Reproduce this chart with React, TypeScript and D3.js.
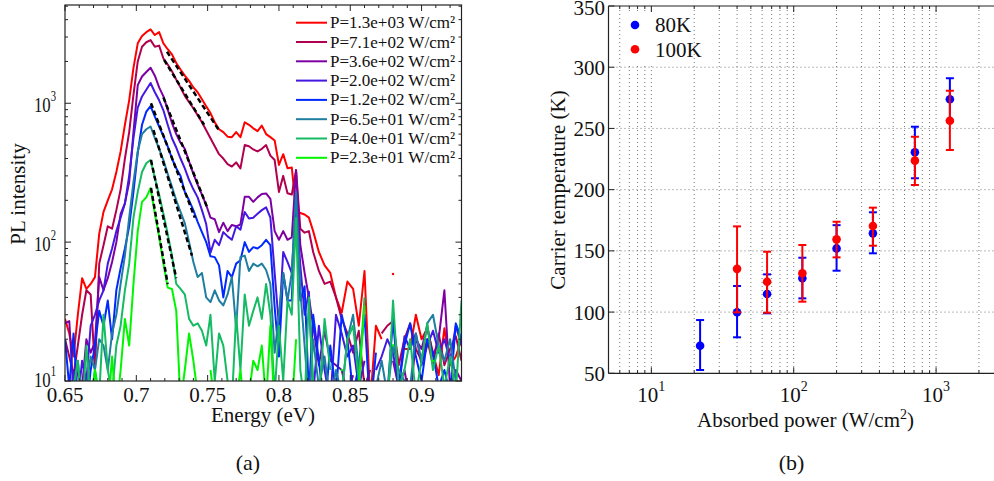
import React from "react";
import * as d3 from "d3";

// ---------- Panel (a): PL spectra ----------
const energy = [
  0.650, 0.653, 0.656, 0.659, 0.662, 0.665, 0.668, 0.671, 0.674, 0.677,
  0.680, 0.683, 0.686, 0.689, 0.692, 0.695, 0.698, 0.701, 0.704, 0.707,
  0.710, 0.713, 0.716, 0.719, 0.722, 0.725, 0.728, 0.731, 0.734, 0.737,
  0.740, 0.743, 0.746, 0.749, 0.752, 0.755, 0.758, 0.761, 0.764, 0.767,
  0.770, 0.773, 0.776, 0.779, 0.782, 0.785, 0.788, 0.791, 0.794, 0.797,
  0.800, 0.803, 0.806, 0.809, 0.812, 0.815, 0.818, 0.821, 0.824,
  0.828, 0.832, 0.836, 0.840, 0.844, 0.848, 0.852, 0.856, 0.860, 0.864,
  0.868, 0.872, 0.876, 0.880, 0.884, 0.888, 0.892, 0.896, 0.900, 0.904,
  0.908, 0.912, 0.916, 0.920, 0.924, 0.928,
];

const pl1300 = [
  28, 22, 15, 30, 55, 46, 50, 56, 115, 165,
  200, 240, 320, 450, 700, 1050, 1800, 2700, 3050, 3250,
  3400, 3100, 3250, 2700, 2450, 2250, 1950, 1750, 1580, 1450,
  1300, 1200, 1070, 950, 850, 730, 650, 620, 575, 570,
  620, 570, 730, 700, 660, 630, 690, 600, 570, 540,
  360, 430, 340, 345, 170, 162, 158, 150, 120,
  85, 68, 60, 40, 31, 52, 46, 25, 62, 7,
  25, 20, null, 59, null, 17, 17, 30, 20, 24,
  16, 11, 24, 13, 15, 20,
];
const pl710 = [
  20, 15, 11, 18, 30, 45, 42, 12, 70, 95,
  130, 125, 170, 240, 400, 620, 1150, 2000, 2550, 2750,
  2850, 2550, 2600, 2100, 1900, 1700, 1480, 1300, 1130, 1020,
  920, 820, 730, 640, 560, 490, 430, 400, 365, 350,
  375, 340, 500, 490, 465, 450, 470, 500, 420, 390,
  230, 300, 225, 220, 330, 125, 117, 120, 85,
  62, 50, 52, 40, 28, 22, 16, 23, 9, 12,
  null, 22, 25, 27, 13, 20, 26, 17, 14, 20,
  13, 22, 13, 17, 21, 14,
];
const pl360 = [
  26, 27, 8, 12, 9, 20, 16, 19, 56, 45,
  55, 72, 100, 160, 190, 270, 620, 1350, 1560, 1680,
  1800, 1580, 1300, 1120, 900, 720, 600, 520, 470, 380,
  310, 260, 220, 185, 150, 146, 118, 138, 120, 133,
  130, 134, 212, 212, 195, 210, 222, 224, 205, 120,
  104, 120, 104, 108, 330, 95, 60, 40, 25,
  13, 23, 14, 13, 12, 8, 11, null, 5, null,
  null, 7, null, 14, 9, 12, 7, 20, 17, 25,
  15, 20, 45, 9, 12, 10,
];
const pl200 = [
  9, 6, 12, 7, 14, 10, 25, 30, 38, 45,
  70, 90, 120, 150, 190, 300, 560, 930, 1120, 1250,
  1400, 1200, 1050, 890, 700, 560, 480, 400, 340, 280,
  240, 210, 170, 135, 84, 104, 95, 118, 110, 104,
  130, 123, 165, 148, 150, 160, 170, 178, 150, 60,
  25, 85, 72, 60, 200, 68, 30, 44, 8,
  25, 12, 7, 30, 22, 15, 18, 9, 14, null,
  12, 15, 20, 16, 9, 21, 17, 22, 13, 18,
  23, 16, 20, 14, 25, 18,
];
const pl120 = [
  20, 9, 22, 7, 8, 6, 12, 18, 32, 25,
  38, 20, 45, 65, 90, 130, 230, 440, 700, 870,
  955, 800, 680, 580, 490, 400, 340, 300, 230, 200,
  170, 140, 118, 100, 79, 78, 68, 40, 62, 56,
  70, 74, 100, 85, 92, 90, 95, 104, 95, 34,
  15, 60, 38, 38, 230, 38, 48, 8, 30,
  14, 6, 18, 8, 30, 20, 8, 13, 30, 6,
  16, null, 8, 28, 9, 18, 26, 15, 10, 20,
  16, 9, 12, 8, 26, 20,
];
const pl65 = [
  9, 6, 8, 14, 7, 9, 15, 12, 20, 18,
  12, 22, 30, 50, 80, 150, 270, 450, 600, 650,
  680, 560, 470, 390, 310, 250, 200, 165, 137, 100,
  72, 56, 60, 40, 37, 45, 38, 35, 42, 56,
  24, 78, 80, 62, 70, 67, 70, 63, 50, 16,
  30, 60, 38, 60, 230, 45, 18, 7, 20,
  9, 15, 7, 12, 8, 20, 30, 12, 6, null,
  9, 14, 8, 18, 12, 10, 9, 22, 14, 26,
  30, 18, 14, 20, 10, 8,
];
const pl40 = [
  7, null, 9, 14, 6, 18, 7, 12, 8, 30,
  12, 8, 18, 25, 45, 70, 150, 230, 320, 370,
  390, 290, 220, 160, 115, 80, 50, 46, 42, 28,
  25, 26, 23, 18, 30, 10, 22, 18, 10, 7,
  30, 12, 42, 25, 32, 40, 28, 50, 30, 8,
  25, 10, 38, 30, 150, 12, 7, 40, 10,
  7, 28, 12, null, 8, 20, 25, 10, 40, null,
  8, null, 6, 38, 9, 12, 20, 8, 14, 26,
  12, 18, 9, 15, 8, 38,
];
const pl23 = [
  null, 8, null, 6, null, 9, 7, 12, 7, 8,
  6, 15, 6, 12, 28, 18, 50, 120, 195, 210,
  245, 160, 110, 70, 47, 46, 32, 7, 12, 22,
  14, 8, 6, null, 12, 7, null, 5, 9, null,
  7, 12, 6, 8, 14, 12, 18, 7, 25, 6,
  null, 9, null, 6, 20, null, 8, null, null,
  null, 6, null, null, 12, null, null, 9, 35, null,
  null, 8, null, 18, null, null, 9, null, 6, null,
  14, null, null, 7, null, 30,
];

const seriesLabels = [
  "P=1.3e+03 W/cm²",
  "P=7.1e+02 W/cm²",
  "P=3.6e+02 W/cm²",
  "P=2.0e+02 W/cm²",
  "P=1.2e+02 W/cm²",
  "P=6.5e+01 W/cm²",
  "P=4.0e+01 W/cm²",
  "P=2.3e+01 W/cm²",
];

// exponential fits of the high-energy tail (start/end energy, start/end intensity)
const fitStartE = [0.7215, 0.7195, 0.719, null, 0.7103, 0.712, 0.7103, 0.7103];
const fitEndE = [0.7575, 0.7475, 0.7495, null, 0.741, 0.739, 0.728, 0.722];
const fitStartI = [2350, 2050, 1100, null, 1000, 640, 390, 245];
const fitEndI = [650, 700, 180, null, 150, 80, 55, 50];

const energyTicks = [0.65, 0.7, 0.75, 0.8, 0.85, 0.9];
const energyTickLabels = ["0.65", "0.7", "0.75", "0.8", "0.85", "0.9"];
const intensityTicks = [10, 100, 1000];
const intensityTickExp = ["1", "2", "3"];

// ---------- Panel (b): carrier temperature ----------
const absorbedPower = [22, 40, 65, 115, 200, 360, 710, 1250];
const temp80K = [72.5, 99.8, 114.8, 127.6, 152, 164.3, 230.5, 273.8];
const temp80KLow = [52.7, 79.4, 99, 111.2, 133.8, 148, 209.3, 256.6];
const temp80KHigh = [93.5, 121.3, 130.8, 144.4, 171, 181.5, 251.4, 291];
const temp100K = [null, 135.3, 124.8, 131.7, 159.4, 170.3, 223.7, 256.3];
const temp100KLow = [null, 99.8, 99.5, 108.5, 144.7, 154.2, 203.8, 232.4];
const temp100KHigh = [null, 170, 149.3, 154.8, 173.8, 185.3, 243.2, 280.8];

const tempTicks = [50, 100, 150, 200, 250, 300, 350];
const powerTicks = [10, 100, 1000];
const powerTickExp = ["1", "2", "3"];

const FONT = "'Liberation Serif', 'Times New Roman', Times, serif";
const seriesColors = [
  "#ff0000",
  "#b0004f",
  "#7d00a3",
  "#4318e0",
  "#0028ff",
  "#1f7ea0",
  "#14bb62",
  "#00f500",
];

export default function App() {
  // ---- scales panel (a)
  const xL = d3.scaleLinear().domain([0.65, 0.928]).range([65, 461.5]);
  const yL = d3.scaleLog().domain([10, 5100]).range([381, 5]);
  const plotL = { x0: 65, x1: 461.5, y0: 5, y1: 381 };

  const allSeries = [pl1300, pl710, pl360, pl200, pl120, pl65, pl40, pl23];

  const paths = allSeries.map((vals) => {
    const gen = d3
      .line<number>()
      .defined((i) => vals[i] != null && (vals[i] as number) > 0)
      .x((i) => xL(energy[i]))
      .y((i) => yL(vals[i] as number));
    return gen(d3.range(energy.length)) || "";
  });

  const isolated = allSeries.map((vals) =>
    d3.range(energy.length).filter((i) => {
      if (vals[i] == null) return false;
      const prev = i > 0 ? vals[i - 1] : null;
      const next = i < vals.length - 1 ? vals[i + 1] : null;
      return prev == null && next == null;
    })
  );

  const fitLine = d3
    .line<[number, number]>()
    .x((d) => xL(d[0]))
    .y((d) => yL(d[1]));

  const xMinor = d3.range(0.66, 0.925, 0.01).filter(
    (v) => !energyTicks.some((t) => Math.abs(t - v) < 1e-6)
  );
  const yMinor: number[] = [];
  [10, 100, 1000].forEach((dec) => {
    for (let k = 2; k <= 9; k++) {
      const v = dec * k;
      if (v <= 5100) yMinor.push(v);
    }
  });

  // ---- scales panel (b)
  const xR = d3.scaleLog().domain([5, 3000]).range([608.5, 1004]);
  const yR = d3.scaleLinear().domain([50, 350]).range([373.3, 6]);
  const plotR = { x0: 608.5, x1: 1004, y0: 6, y1: 373.3 };

  const xRMinor: number[] = [];
  [1, 10, 100, 1000].forEach((dec) => {
    for (let k = 2; k <= 9; k++) {
      const v = dec * k;
      if (v >= 5 && v <= 3000) xRMinor.push(v);
    }
  });
  const xRGrid = [...xRMinor, ...powerTicks].sort((a, b) => a - b);

  const errorBars = (
    vals: (number | null)[],
    lo: (number | null)[],
    hi: (number | null)[],
    color: string,
    key: string
  ) =>
    absorbedPower.map((p, i) => {
      if (vals[i] == null) return null;
      const x = xR(p);
      const yl = yR(lo[i] as number);
      const yh = yR(hi[i] as number);
      return (
        <g key={key + i}>
          <line x1={x} x2={x} y1={yl} y2={yh} stroke={color} strokeWidth={2} />
          <line x1={x - 4} x2={x + 4} y1={yl} y2={yl} stroke={color} strokeWidth={2} />
          <line x1={x - 4} x2={x + 4} y1={yh} y2={yh} stroke={color} strokeWidth={2} />
          <circle cx={x} cy={yR(vals[i] as number)} r={4.3} fill={color} />
        </g>
      );
    });

  return (
    <svg
      width={994}
      height={481}
      style={{ position: "absolute", left: 0, top: 0, background: "#fff" }}
      fontFamily={FONT}
    >
      <rect x={0} y={0} width={994} height={481} fill="#fff" />
      <defs>
        <clipPath id="clipL">
          <rect x={plotL.x0} y={plotL.y0} width={plotL.x1 - plotL.x0} height={plotL.y1 - plotL.y0} />
        </clipPath>
      </defs>

      {/* ================= Panel (a) ================= */}
      <g clipPath="url(#clipL)">
        {paths.map((d, s) => (
          <path key={"s" + s} d={d} fill="none" stroke={seriesColors[s]} strokeWidth={2} strokeLinejoin="round" />
        ))}
        {isolated.map((idx, s) =>
          idx.map((i) => (
            <circle
              key={"iso" + s + "-" + i}
              cx={xL(energy[i])}
              cy={yL(allSeries[s][i] as number)}
              r={1.2}
              fill={seriesColors[s]}
            />
          ))
        )}
        {fitStartE.map((e0, s) =>
          e0 == null ? null : (
            <path
              key={"fit" + s}
              d={
                fitLine([
                  [e0, fitStartI[s] as number],
                  [fitEndE[s] as number, fitEndI[s] as number],
                ]) || ""
              }
              fill="none"
              stroke="#000"
              strokeWidth={2.5}
              strokeDasharray="5 3"
            />
          )
        )}
      </g>

      {/* frame */}
      <rect
        x={plotL.x0}
        y={plotL.y0}
        width={plotL.x1 - plotL.x0}
        height={plotL.y1 - plotL.y0}
        fill="none"
        stroke="#222"
        strokeWidth={1.2}
      />
      {/* x ticks */}
      {energyTicks.map((t) => (
        <g key={"xt" + t}>
          <line x1={xL(t)} x2={xL(t)} y1={plotL.y1} y2={plotL.y1 - 6} stroke="#222" />
          <line x1={xL(t)} x2={xL(t)} y1={plotL.y0} y2={plotL.y0 + 6} stroke="#222" />
        </g>
      ))}
      {xMinor.map((t) => (
        <g key={"xm" + t}>
          <line x1={xL(t)} x2={xL(t)} y1={plotL.y1} y2={plotL.y1 - 3} stroke="#222" />
          <line x1={xL(t)} x2={xL(t)} y1={plotL.y0} y2={plotL.y0 + 3} stroke="#222" />
        </g>
      ))}
      {intensityTicks.map((t) => (
        <g key={"yt" + t}>
          <line x1={plotL.x0} x2={plotL.x0 + 6} y1={yL(t)} y2={yL(t)} stroke="#222" />
          <line x1={plotL.x1} x2={plotL.x1 - 6} y1={yL(t)} y2={yL(t)} stroke="#222" />
        </g>
      ))}
      {yMinor.map((t) => (
        <g key={"ym" + t}>
          <line x1={plotL.x0} x2={plotL.x0 + 3} y1={yL(t)} y2={yL(t)} stroke="#222" />
          <line x1={plotL.x1} x2={plotL.x1 - 3} y1={yL(t)} y2={yL(t)} stroke="#222" />
        </g>
      ))}
      {energyTicks.map((t, i) => (
        <text key={"xl" + t} x={xL(t)} y={402} fontSize={21} textAnchor="middle" fill="#111">
          {energyTickLabels[i]}
        </text>
      ))}
      {intensityTicks.map((t, i) => (
        <text
          key={"yl" + t}
          x={0}
          y={0}
          fontSize={22}
          textAnchor="end"
          fill="#111"
          transform={`translate(56,${yL(t) + (t === 10 ? 6 : 9)}) scale(0.76,1)`}
        >
          10
          <tspan dy={-11} fontSize={14}>
            {intensityTickExp[i]}
          </tspan>
        </text>
      ))}
      <text x={263} y={422} fontSize={21} textAnchor="middle" fill="#111">
        Energy (eV)
      </text>
      <text
        x={0}
        y={0}
        fontSize={21}
        textAnchor="middle"
        fill="#111"
        transform="translate(25,194) rotate(-90)"
      >
        PL intensity
      </text>
      {/* legend */}
      {seriesLabels.map((lab, i) => {
        const y = 22.7 + i * 19.3;
        return (
          <g key={"lg" + i}>
            <line x1={296} x2={327} y1={y} y2={y} stroke={seriesColors[i]} strokeWidth={2} />
            <text x={330} y={y + 5.5} fontSize={17} fill="#111">
              {lab}
            </text>
          </g>
        );
      })}
      <text x={248} y={470} fontSize={22} textAnchor="middle" fill="#111">
        (a)
      </text>

      {/* ================= Panel (b) ================= */}
      {/* grid */}
      {tempTicks
        .filter((t) => t > 50 && t < 350)
        .map((t) => (
          <line
            key={"gy" + t}
            x1={plotR.x0}
            x2={plotR.x1}
            y1={yR(t)}
            y2={yR(t)}
            stroke="#777"
            strokeWidth={1}
            strokeDasharray="1 3"
          />
        ))}
      {xRGrid.map((t) => (
        <line
          key={"gx" + t}
          x1={xR(t)}
          x2={xR(t)}
          y1={plotR.y0}
          y2={plotR.y1}
          stroke="#777"
          strokeWidth={1}
          strokeDasharray="1 3"
        />
      ))}
      {/* frame */}
      <line x1={plotR.x0} x2={plotR.x1} y1={plotR.y0} y2={plotR.y0} stroke="#222" strokeWidth={1.2} />
      <line x1={plotR.x0} x2={plotR.x1} y1={plotR.y1} y2={plotR.y1} stroke="#222" strokeWidth={1.2} />
      <line x1={plotR.x0} x2={plotR.x0} y1={plotR.y0} y2={plotR.y1} stroke="#222" strokeWidth={1.2} />
      {tempTicks.map((t) => (
        <g key={"ryt" + t}>
          <line x1={plotR.x0} x2={plotR.x0 + 6} y1={yR(t)} y2={yR(t)} stroke="#222" />
          <text x={605} y={yR(t) + (t === 350 ? 8.5 : 7.5)} fontSize={21} textAnchor="end" fill="#111">
            {t}
          </text>
        </g>
      ))}
      {powerTicks.map((t, i) => (
        <g key={"rxt" + t}>
          <line x1={xR(t)} x2={xR(t)} y1={plotR.y1} y2={plotR.y1 - 6} stroke="#222" />
          <line x1={xR(t)} x2={xR(t)} y1={plotR.y0} y2={plotR.y0 + 6} stroke="#222" />
          <text x={xR(t)} y={401.5} fontSize={21} textAnchor="middle" fill="#111">
            10
            <tspan dy={-11} fontSize={14}>
              {powerTickExp[i]}
            </tspan>
          </text>
        </g>
      ))}
      {xRMinor.map((t) => (
        <g key={"rxm" + t}>
          <line x1={xR(t)} x2={xR(t)} y1={plotR.y1} y2={plotR.y1 - 3} stroke="#222" />
          <line x1={xR(t)} x2={xR(t)} y1={plotR.y0} y2={plotR.y0 + 3} stroke="#222" />
        </g>
      ))}
      {errorBars(temp80K, temp80KLow, temp80KHigh, "#0000ff", "b")}
      {errorBars(temp100K, temp100KLow, temp100KHigh, "#ff0000", "r")}

      {/* legend (b) */}
      <rect x={622} y={12} width={60} height={52} fill="#fff" />
      <circle cx={635} cy={25} r={4.3} fill="#0000ff" />
      <text x={655} y={32} fontSize={21} fill="#111">
        80K
      </text>
      <circle cx={635} cy={49.3} r={4.3} fill="#ff0000" />
      <text x={655} y={56.5} fontSize={21} fill="#111">
        100K
      </text>

      <text x={805.5} y={427} fontSize={21} textAnchor="middle" fill="#111">
        Absorbed power (W/cm
        <tspan dy={-8} fontSize={14}>
          2
        </tspan>
        <tspan dy={8}>)</tspan>
      </text>
      <text
        x={0}
        y={0}
        fontSize={21}
        textAnchor="middle"
        fill="#111"
        transform="translate(565,190) rotate(-90)"
      >
        Carrier temperature (K)
      </text>
      <text x={791.5} y={470} fontSize={22} textAnchor="middle" fill="#111">
        (b)
      </text>
    </svg>
  );
}
